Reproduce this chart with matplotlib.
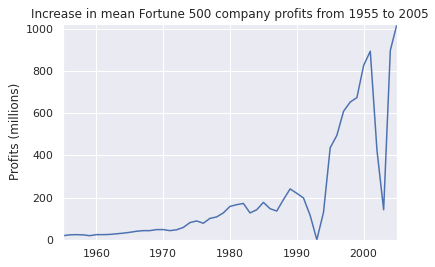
import matplotlib
matplotlib.use("Agg")
import matplotlib.pyplot as plt
import seaborn as sns

years = list(range(1955, 2006))
profits = [19, 23, 24, 23, 19, 24, 24, 25, 28, 31,
           35, 40, 43, 43, 48, 48, 43, 47, 58, 81,
           89, 78, 101, 108, 127, 158, 166, 172, 127, 142,
           177, 147, 136, 190, 241, 220, 198, 115, 0, 130,
           436, 495, 609, 653, 674, 826, 894, 425, 142, 898,
           1023]

title = "Increase in mean Fortune 500 company profits from 1955 to 2005"
y_label = "Profits (millions)"

sns.set_theme()
fig = plt.figure(figsize=(435 / 72, 267 / 72), dpi=72)
ax = fig.add_axes([63 / 435, 1 - 239.7 / 267, (397 - 63) / 435, (239.7 - 24) / 267])
ax.plot(years, profits, color="#4c72b0", linewidth=1.5)
ax.set_title(title)
ax.set_ylabel(y_label)
ax.set_xlim(min(years), max(years))
ax.set_ylim(0, max(profits))
fig.savefig("out.png", dpi=72)
